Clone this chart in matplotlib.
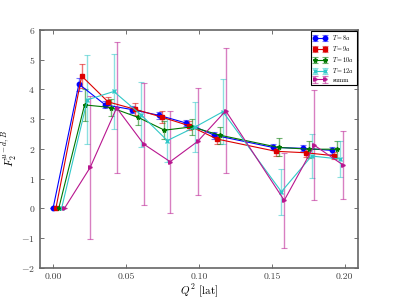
import matplotlib
matplotlib.use('Agg')
import matplotlib.pyplot as plt

plt.rcParams['font.family'] = 'serif'
plt.rcParams['font.serif'] = ['cmr10', 'DejaVu Serif']
plt.rcParams['mathtext.fontset'] = 'cm'
plt.rcParams['axes.formatter.use_mathtext'] = True

# Q^2 values (first series), other series shifted slightly for visibility
q2 = [0.0, 0.0177, 0.0358, 0.0544, 0.0725, 0.0913, 0.1106, 0.1507, 0.1714, 0.191]

labels = ['$T=8a$', '$T=9a$', '$T=10a$', '$T=12a$', 'summ']

f_t8 = [0.0, 4.18, 3.48, 3.32, 3.13, 2.87, 2.46, 2.05, 2.02, 1.95]
e_t8 = [0.0, 0.22, 0.12, 0.12, 0.12, 0.10, 0.12, 0.10, 0.10, 0.12]

f_t9 = [0.0, 4.45, 3.58, 3.33, 3.07, 2.78, 2.33, 1.92, 1.87, 1.77]
e_t9 = [0.0, 0.40, 0.18, 0.20, 0.20, 0.15, 0.17, 0.15, 0.15, 0.12]

f_t10 = [0.0, 3.48, 3.39, 3.06, 2.63, 2.74, 2.46, 2.05, 1.99, 1.99]
e_t10 = [0.0, 0.55, 0.30, 0.25, 0.30, 0.28, 0.28, 0.30, 0.28, 0.28]

f_t12 = [0.0, 3.65, 3.93, 3.15, 2.28, 2.73, 3.25, 0.56, 1.76, 1.66]
e_t12 = [0.0, 1.50, 1.27, 1.10, 0.72, 0.83, 1.10, 0.78, 0.74, 0.60]

f_summ = [0.0, 1.38, 3.38, 2.16, 1.57, 2.25, 3.28, 0.27, 2.12, 1.46]
e_summ = [0.0, 2.40, 2.20, 2.06, 1.72, 1.81, 2.10, 1.60, 1.85, 1.13]

values = [f_t8, f_t9, f_t10, f_t12, f_summ]
errors = [e_t8, e_t9, e_t10, e_t12, e_summ]
colors = ['#0000ff', '#dd0000', '#007700', '#30c8c8', '#b8168f']
markers = ['o', 's', '*', 'x', '>']
msizes = [3.2, 3.2, 3.2, 3, 2.6]
shift = 0.00195

fig = plt.figure(figsize=(3.99, 2.99), dpi=100)
ax = fig.add_axes([0.1, 0.104, 0.797, 0.796])

for k in range(len(values)):
    xs = [q + k * shift for q in q2]
    cont = ax.errorbar(xs, values[k], yerr=errors[k], color=colors[k],
                       marker=markers[k], ms=msizes[k], mec=colors[k],
                       lw=0.8, elinewidth=1.0, capsize=2, capthick=0.8,
                       label=labels[k])
    for c in cont[1]:
        c.set_alpha(0.55)
    for c in cont[2]:
        c.set_alpha(0.55)

ax.set_xlim(-0.009, 0.209)
ax.set_ylim(-2, 6)
ax.set_xticks([0.0, 0.05, 0.10, 0.15, 0.20])
ax.set_xticklabels(['0.00', '0.05', '0.10', '0.15', '0.20'])
ax.tick_params(direction='in', top=True, right=True, labelsize=7,
               length=3, width=0.6, colors='0.35', labelcolor='0.25')
for s in ax.spines.values():
    s.set_color('0.4')
    s.set_linewidth(1.2)

ax.set_xlabel(r'$Q^2$ [lat]', fontsize=8, labelpad=1)
ax.set_ylabel(r'$F_2^{u-d,B}$', fontsize=8)
ax.yaxis.set_label_coords(-0.065, 0.5)

leg = ax.legend(loc='upper right', numpoints=2, fontsize=4.5,
                borderaxespad=0.15, fancybox=False, framealpha=1,
                handlelength=2.2, labelspacing=0.3)
leg.get_frame().set_edgecolor('black')
leg.get_frame().set_linewidth(0.8)

fig.savefig('out.png', dpi=100)
